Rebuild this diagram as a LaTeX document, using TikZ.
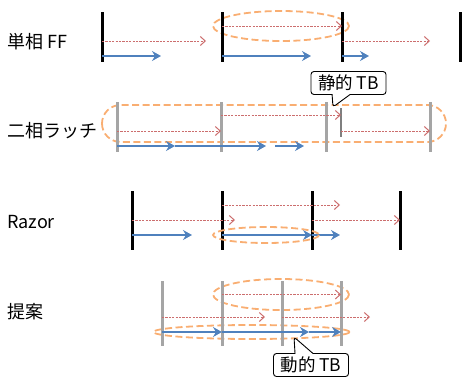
\documentclass[tikz,border=0pt]{standalone}
\usepackage{fontspec}
\setmainfont{Noto Sans CJK JP}
\usepackage{tikz}
\usetikzlibrary{calc,arrows.meta,shapes.callouts}
\definecolor{ink}{HTML}{000000}
\definecolor{latch}{HTML}{A5A5A5}
\definecolor{latchdark}{HTML}{7F7F7F}
\definecolor{launch}{HTML}{CC6E6E}
\definecolor{comb}{HTML}{4F81BD}
\definecolor{borrow}{HTML}{F9AE72}
\tikzset{
  ffbar/.style={draw=ink, line width=3pt},
  latchbar/.style={draw=latch, line width=3pt},
  dataline/.style={draw=launch, line width=1pt, dash pattern=on 2.2pt off 1.2pt, -{Straight Barb[length=5pt,width=9pt]}},
  combline/.style={draw=comb, line width=2.8pt, -{Stealth[length=9pt,width=10pt,inset=3pt]}},
  tbwin/.style={draw=borrow, line width=1.8pt, dash pattern=on 7pt off 3.5pt},
  rowlab/.style={anchor=west, font=\fontsize{18}{18}\selectfont, inner sep=0pt},
  tbcall/.style={rectangle callout, draw=ink, fill=white, line width=0.9pt, rounded corners=3pt,
    callout pointer width=18pt, font=\fontsize{17.5}{17.5}\selectfont,
    minimum width=75pt, minimum height=23pt, inner sep=1pt},
}

\begin{document}
\begin{tikzpicture}[x=1pt,y=-1pt]
  \useasboundingbox (0,0) rectangle (462,378);

  % single-phase FF
  \node[rowlab] (lff) at (7,42) {単相 FF};
  \coordinate (ffwin) at (281,26);
  \coordinate (ffr1) at (206,41);
  \coordinate (ffr2) at (430,41);
  \coordinate (ffb1) at (161,56);
  \coordinate (ffb2) at (311,56);
  \coordinate (ffb3) at (369,56);
  \draw[tbwin] (ffwin) ellipse [x radius=68, y radius=15];
  \foreach \i/\x in {1/102,2/222,3/342,4/460}
    \draw[ffbar] (\x,12) coordinate (ff\i) -- (\x,62);
  \draw[dataline] (ff1 |- ffr1) -- (ffr1);
  \draw[dataline] (ff2 |- ffwin) -- (ff3 |- ffwin);
  \draw[dataline] (ff3 |- ffr2) -- (ffr2);
  \draw[combline] (ff1 |- ffb1) -- (ffb1);
  \draw[combline] (ff2 |- ffb2) -- (ffb2);
  \draw[combline] (ff3 |- ffb3) -- (ffb3);

  % two-phase latch
  \node[rowlab] (llatch) at (7,131) {二相ラッチ};
  \coordinate (lahi) at (0,115);
  \coordinate (lalo) at (0,131);
  \coordinate (lab1) at (175,146);
  \coordinate (lab2) at (266,146);
  \coordinate (lab3) at (275,146);
  \coordinate (lab4) at (304,146);
  \draw[tbwin, rounded corners=18.5pt] (102,105) rectangle (446,142);
  \foreach \i/\x in {1/117,2/221,3/326,4/430}
    \draw[latchbar] (\x,102) coordinate (la\i) -- (\x,152);
  \draw[draw=latchdark, line width=1.5pt] (341,108) coordinate (lam) -- (341,137);
  \draw[dataline] (la1 |- lalo) -- (la2 |- lalo);
  \draw[dataline] (la2 |- lahi) -- (lam |- lahi);
  \draw[dataline] (lam |- lalo) -- (la4 |- lalo);
  \draw[combline] (la1 |- lab1) -- (lab1);
  \draw[combline] (lab1) -- (lab2);
  \draw[combline] (lab3) -- (lab4);

  % Razor
  \node[rowlab] (lrazor) at (7,222) {Razor};
  \coordinate (rzwin) at (266,235);
  \coordinate (rzr1) at (235,220);
  \coordinate (rzr2) at (340,205);
  \coordinate (rzb1) at (192,235);
  \coordinate (rzb2) at (340,235);
  \foreach \i/\x in {1/132,2/222,3/312,4/400}
    \draw[ffbar] (\x,191) coordinate (rz\i) -- (\x,250);
  \draw[dataline] (rz1 |- rzr1) -- (rzr1);
  \draw[dataline] (rz2 |- rzr2) -- (rzr2);
  \draw[dataline] (rz3 |- rzr1) -- (rz4 |- rzr1);
  \draw[combline] (rz1 |- rzb1) -- (rzb1);
  \draw[combline] (rz2 |- rzwin) -- (rz3 |- rzwin);
  \draw[combline] (rz3 |- rzb2) -- (rzb2);
  \draw[tbwin] (rzwin) ellipse [x radius=53, y radius=8];

  % proposed
  \node[rowlab] (lprop) at (7,312) {提案};
  \coordinate (prwin) at (281,294.5);
  \coordinate (prlow) at (251.5,332);
  \coordinate (prr1) at (265,317);
  \coordinate (prr2) at (370,317);
  \coordinate (prb1) at (309,332);
  \draw[tbwin] (prwin) ellipse [x radius=68, y radius=15.5];
  \draw[tbwin] (prlow) ellipse [x radius=98, y radius=7];
  \foreach \i/\x in {1/162,2/222,3/282,4/341}
    \draw[latchbar] (\x,281) coordinate (pr\i) -- (\x,346);
  \draw[dataline] (pr2 |- prwin) -- (pr4 |- prwin);
  \draw[dataline] (pr1 |- prr1) -- (prr1);
  \draw[dataline] (pr3 |- prr2) -- (prr2);
  \draw[combline] (prb1) -- (pr4 |- prlow);
  \draw[combline] (pr1 |- prlow) -- (pr2 |- prlow);
  \draw[combline] (pr2 |- prlow) -- (prb1);

  % time-borrowing notes
  \coordinate (tbs) at (333,107);
  \coordinate (tbd) at (294,337);
  \node[tbcall, callout absolute pointer={(tbs)}] (tbstatic) at (348.5,83) {静的 TB};
  \node[tbcall, callout absolute pointer={(tbd)}] (tbdynamic) at (311,365) {動的 TB};
\end{tikzpicture}
\end{document}
